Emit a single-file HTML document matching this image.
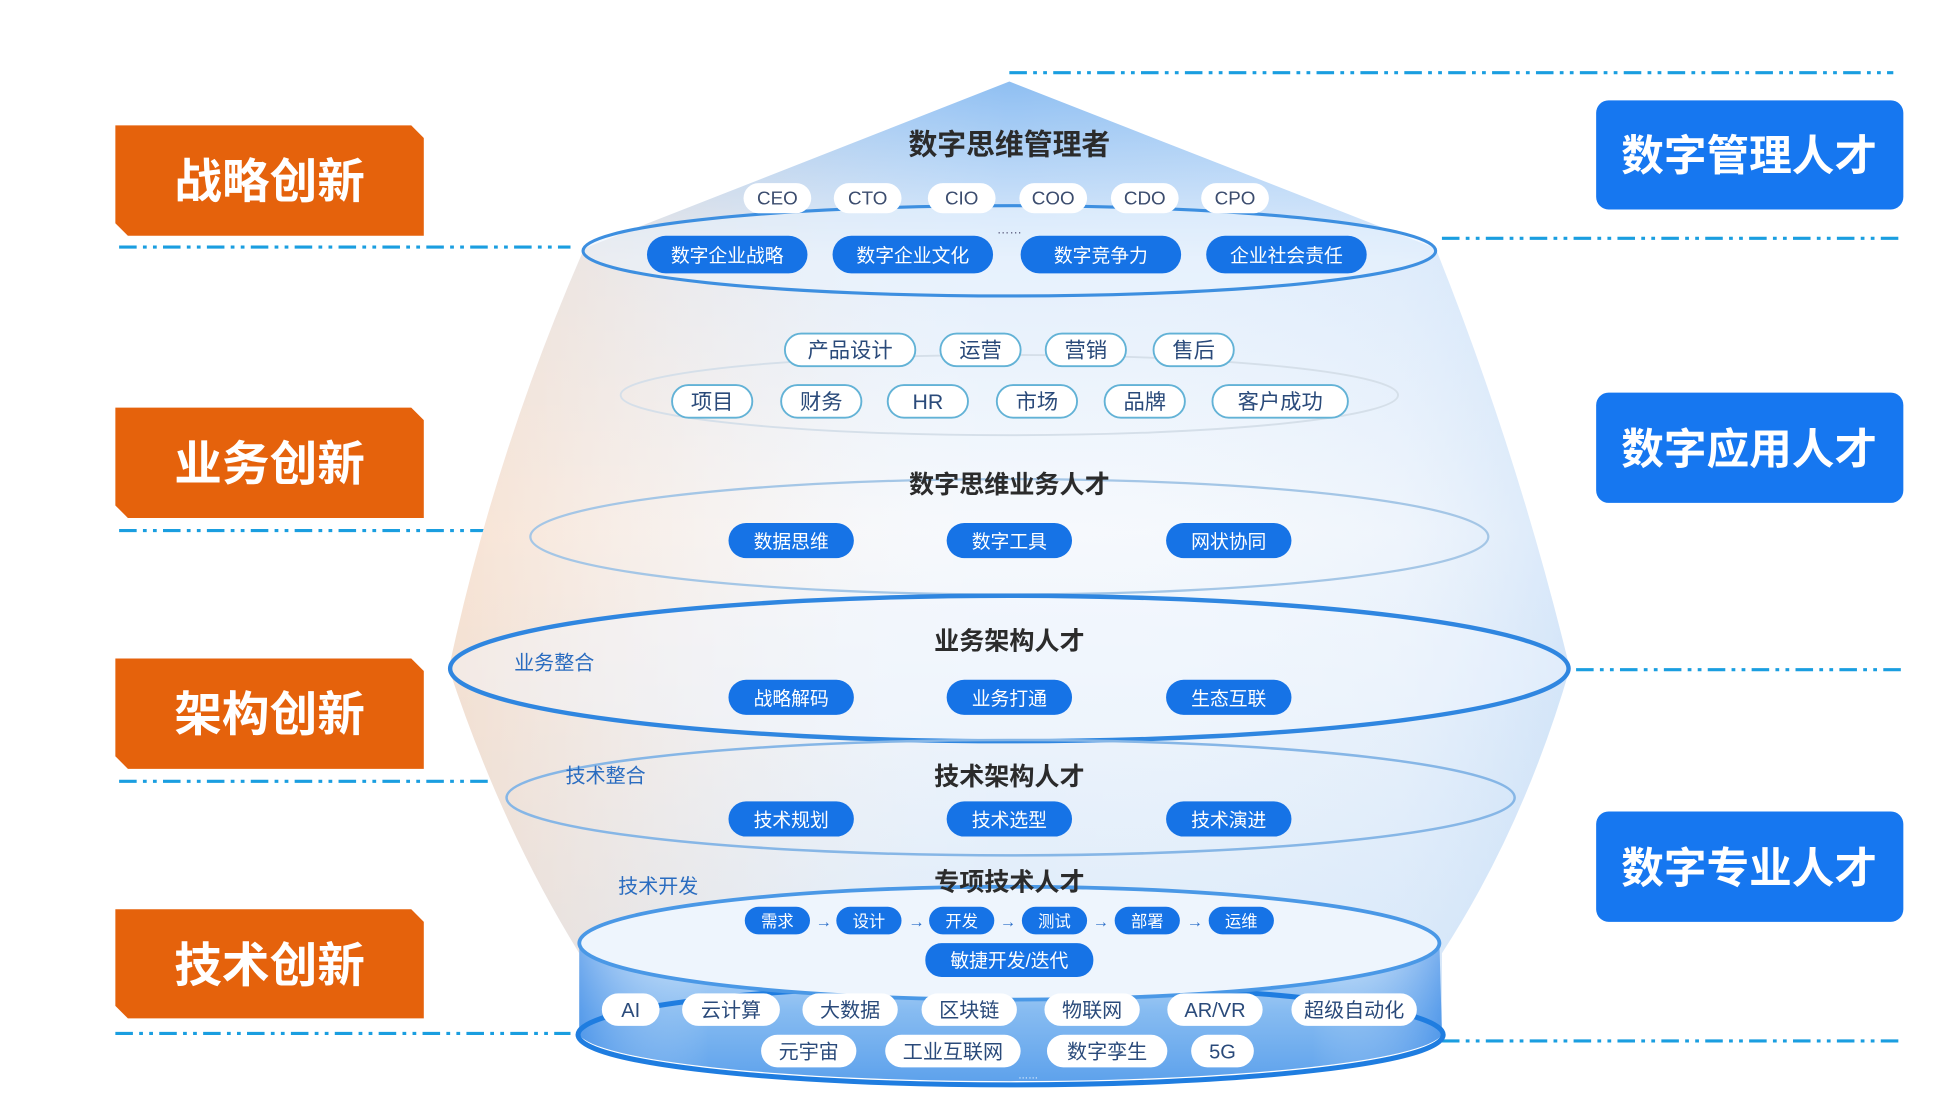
<!DOCTYPE html>
<html><head><meta charset="utf-8"><style>
html,body{margin:0;padding:0;background:#fff;}
svg{display:block;}
text{font-family:"Liberation Sans","Noto Sans CJK SC",sans-serif;}
</style></head><body>
<svg width="1956" height="1120" viewBox="0 0 1560 893" preserveAspectRatio="none" xmlns="http://www.w3.org/2000/svg">
<defs>
<linearGradient id="bodyG" x1="0" y1="0" x2="0" y2="1">
<stop offset="0" stop-color="#8fbff2"/>
<stop offset="0.18" stop-color="#e4effc"/>
<stop offset="0.45" stop-color="#f6f9fd"/>
<stop offset="0.7" stop-color="#e8f1fb"/>
<stop offset="1" stop-color="#d6e7f9"/>
</linearGradient>
<linearGradient id="orG" x1="0" y1="0" x2="1" y2="0">
<stop offset="0" stop-color="#f9cca8" stop-opacity="0.5"/>
<stop offset="0.3" stop-color="#fbe6d6" stop-opacity="0.2"/>
<stop offset="0.5" stop-color="#ffffff" stop-opacity="0"/>
<stop offset="0.85" stop-color="#c4dcf6" stop-opacity="0.15"/>
<stop offset="1" stop-color="#a2c8f2" stop-opacity="0.35"/>
</linearGradient>
<linearGradient id="cylG" x1="0" y1="0" x2="0" y2="1">
<stop offset="0" stop-color="#c8e0f9"/>
<stop offset="0.5" stop-color="#86bbf1"/>
<stop offset="1" stop-color="#5ea2ec"/>
</linearGradient>
<linearGradient id="cylH" x1="0" y1="0" x2="1" y2="0">
<stop offset="0" stop-color="#2c7fe4" stop-opacity="0.5"/>
<stop offset="0.15" stop-color="#ffffff" stop-opacity="0"/>
<stop offset="0.85" stop-color="#ffffff" stop-opacity="0"/>
<stop offset="1" stop-color="#2c7fe4" stop-opacity="0.5"/>
</linearGradient>
</defs>

<g stroke="#1a9ee0" stroke-width="2.5" fill="none" stroke-dasharray="14 5 3 5 3 5">
<line x1="805" y1="58" x2="1510" y2="58"/>
<line x1="1150" y1="190" x2="1518" y2="190"/>
<line x1="1257" y1="534" x2="1518" y2="534"/>
<line x1="1150" y1="830" x2="1518" y2="830"/>
<line x1="95" y1="197" x2="455" y2="197"/>
<line x1="95" y1="423" x2="420" y2="423"/>
<line x1="95" y1="623" x2="395" y2="623"/>
<line x1="92" y1="824" x2="455" y2="824"/>
</g>

<path d="M805,65 L466,198 Q395,360 358,533 Q400,660 462,760 L462,825 A345,40 0 0 0 1150,825 L1150,760 Q1215,660 1252,533 Q1210,360 1145,198 Z" fill="url(#bodyG)"/>
<path d="M805,65 L466,198 Q395,360 358,533 Q400,660 462,760 L462,825 A345,40 0 0 0 1150,825 L1150,760 Q1215,660 1252,533 Q1210,360 1145,198 Z" fill="url(#orG)"/>
<path d="M462,752 A343,45 0 0 0 1148,752 L1150,825 A345,40 0 0 1 462,825 Z" fill="url(#cylG)"/>
<path d="M462,752 A343,45 0 0 0 1148,752 L1150,825 A345,40 0 0 1 462,825 Z" fill="url(#cylH)"/>
<ellipse cx="806" cy="825" rx="345" ry="40" fill="none" stroke="#1f7de0" stroke-width="4"/>

<ellipse cx="805" cy="200" rx="340" ry="36" fill="#eaf3fd" fill-opacity="0.5" stroke="#3d8fe0" stroke-width="2.5"/>
<ellipse cx="805" cy="315" rx="310" ry="32" fill="none" stroke="#d5dfe9" stroke-width="1.5"/>
<ellipse cx="805" cy="428" rx="382" ry="46" fill="none" stroke="#a4c6e6" stroke-width="1.8"/>
<ellipse cx="805" cy="533" rx="446" ry="58" fill="#f3f8fe" fill-opacity="0.4" stroke="#2f86e0" stroke-width="3.5"/>
<ellipse cx="806" cy="636" rx="402" ry="46" fill="none" stroke="#86b6e6" stroke-width="2"/>
<ellipse cx="805" cy="752" rx="343" ry="45" fill="#eef5fd" stroke="#4a98e6" stroke-width="3"/>

<g fill="#e5620c">
<polygon points="92,100 328,100 338,110 338,188 102,188 92,178"/>
<polygon points="92,325 328,325 338,335 338,413 102,413 92,403"/>
<polygon points="92,525 328,525 338,535 338,613 102,613 92,603"/>
<polygon points="92,725 328,725 338,735 338,812 102,812 92,802"/>
</g>
<g fill="#fff" font-size="38" font-weight="bold" text-anchor="middle">
<text x="215" y="158">战略创新</text>
<text x="215" y="383">业务创新</text>
<text x="215" y="583">架构创新</text>
<text x="215" y="783">技术创新</text>
</g>

<g fill="#1677f0">
<rect x="1273" y="80" width="245" height="87" rx="10"/>
<rect x="1273" y="313" width="245" height="88" rx="10"/>
<rect x="1273" y="647" width="245" height="88" rx="10"/>
</g>
<g fill="#fff" font-size="34" font-weight="bold" text-anchor="middle">
<text x="1395" y="136">数字管理人才</text>
<text x="1395" y="370">数字应用人才</text>
<text x="1395" y="704">数字专业人才</text>
</g>

<g fill="#2b2b2b" font-weight="bold" text-anchor="middle">
<text x="805" y="123" font-size="23">数字思维管理者</text>
<text x="805" y="393" font-size="20">数字思维业务人才</text>
<text x="805" y="518" font-size="20">业务架构人才</text>
<text x="805" y="626" font-size="20">技术架构人才</text>
<text x="805" y="710" font-size="20">专项技术人才</text>
</g>
<g fill="#2a6cc0" font-size="16" text-anchor="middle">
<text x="442" y="534">业务整合</text>
<text x="483" y="624">技术整合</text>
<text x="525" y="712">技术开发</text>
</g>
<text x="805" y="186" font-size="10" fill="#557" text-anchor="middle">……</text>
<text x="820" y="860" font-size="8" fill="#fff" text-anchor="middle">……</text>

<g font-size="15" text-anchor="middle">
<g fill="#fff">
<rect x="593" y="146" width="54" height="24" rx="12"/><rect x="665" y="146" width="54" height="24" rx="12"/>
<rect x="740" y="146" width="54" height="24" rx="12"/><rect x="813" y="146" width="54" height="24" rx="12"/>
<rect x="886" y="146" width="54" height="24" rx="12"/><rect x="958" y="146" width="54" height="24" rx="12"/>
</g>
<g fill="#3b4c6e">
<text x="620" y="163">CEO</text><text x="692" y="163">CTO</text><text x="767" y="163">CIO</text>
<text x="840" y="163">COO</text><text x="913" y="163">CDO</text><text x="985" y="163">CPO</text>
</g>
</g>

<g fill="#1673e6">
<rect x="516" y="188" width="128" height="30" rx="15"/><rect x="664" y="188" width="128" height="30" rx="15"/>
<rect x="814" y="188" width="128" height="30" rx="15"/><rect x="962" y="188" width="128" height="30" rx="15"/>
<rect x="581" y="417" width="100" height="28" rx="14"/><rect x="755" y="417" width="100" height="28" rx="14"/><rect x="930" y="417" width="100" height="28" rx="14"/>
<rect x="581" y="542" width="100" height="28" rx="14"/><rect x="755" y="542" width="100" height="28" rx="14"/><rect x="930" y="542" width="100" height="28" rx="14"/>
<rect x="581" y="639" width="100" height="28" rx="14"/><rect x="755" y="639" width="100" height="28" rx="14"/><rect x="930" y="639" width="100" height="28" rx="14"/>
<rect x="594" y="723" width="52" height="22" rx="11"/><rect x="667" y="723" width="52" height="22" rx="11"/>
<rect x="741" y="723" width="52" height="22" rx="11"/><rect x="815" y="723" width="52" height="22" rx="11"/>
<rect x="889" y="723" width="52" height="22" rx="11"/><rect x="964" y="723" width="52" height="22" rx="11"/>
<rect x="738" y="752" width="134" height="27" rx="13"/>
</g>
<g fill="#fff" text-anchor="middle" font-size="15">
<text x="580" y="209">数字企业战略</text><text x="728" y="209">数字企业文化</text>
<text x="878" y="209">数字竞争力</text><text x="1026" y="209">企业社会责任</text>
<text x="631" y="437">数据思维</text><text x="805" y="437">数字工具</text><text x="980" y="437">网状协同</text>
<text x="631" y="562">战略解码</text><text x="805" y="562">业务打通</text><text x="980" y="562">生态互联</text>
<text x="631" y="659">技术规划</text><text x="805" y="659">技术选型</text><text x="980" y="659">技术演进</text>
<g font-size="13">
<text x="620" y="739">需求</text><text x="693" y="739">设计</text><text x="767" y="739">开发</text>
<text x="841" y="739">测试</text><text x="915" y="739">部署</text><text x="990" y="739">运维</text>
</g>
<text x="805" y="771">敏捷开发/迭代</text>
</g>
<g fill="#2c6fc9" font-size="13" text-anchor="middle">
<text x="657" y="739">→</text><text x="731" y="739">→</text><text x="804" y="739">→</text>
<text x="878" y="739">→</text><text x="953" y="739">→</text>
</g>

<g fill="#fff" stroke="#62b2d6" stroke-width="1.5">
<rect x="626" y="266" width="104" height="26" rx="13"/><rect x="750" y="266" width="64" height="26" rx="13"/>
<rect x="834" y="266" width="64" height="26" rx="13"/><rect x="920" y="266" width="64" height="26" rx="13"/>
<rect x="536" y="307" width="64" height="26" rx="13"/><rect x="623" y="307" width="64" height="26" rx="13"/>
<rect x="708" y="307" width="64" height="26" rx="13"/><rect x="795" y="307" width="64" height="26" rx="13"/>
<rect x="881" y="307" width="64" height="26" rx="13"/><rect x="967" y="307" width="108" height="26" rx="13"/>
</g>
<g fill="#2a4a7a" font-size="17" text-anchor="middle">
<text x="678" y="285">产品设计</text><text x="782" y="285">运营</text><text x="866" y="285">营销</text><text x="952" y="285">售后</text>
<text x="568" y="326">项目</text><text x="655" y="326">财务</text><text x="740" y="326">HR</text>
<text x="827" y="326">市场</text><text x="913" y="326">品牌</text><text x="1021" y="326">客户成功</text>
</g>

<g fill="#fff">
<rect x="480" y="792" width="46" height="26" rx="13"/><rect x="544" y="792" width="78" height="26" rx="13"/>
<rect x="640" y="792" width="76" height="26" rx="13"/><rect x="735" y="792" width="76" height="26" rx="13"/>
<rect x="833" y="792" width="76" height="26" rx="13"/><rect x="931" y="792" width="76" height="26" rx="13"/>
<rect x="1030" y="792" width="100" height="26" rx="13"/>
<rect x="607" y="825" width="76" height="26" rx="13"/><rect x="706" y="825" width="108" height="26" rx="13"/>
<rect x="835" y="825" width="96" height="26" rx="13"/><rect x="950" y="825" width="50" height="26" rx="13"/>
</g>
<g fill="#2a4a7a" font-size="16" text-anchor="middle">
<text x="503" y="811">AI</text><text x="583" y="811">云计算</text><text x="678" y="811">大数据</text>
<text x="773" y="811">区块链</text><text x="871" y="811">物联网</text><text x="969" y="811">AR/VR</text>
<text x="1080" y="811">超级自动化</text>
<text x="645" y="844">元宇宙</text><text x="760" y="844">工业互联网</text><text x="883" y="844">数字孪生</text><text x="975" y="844">5G</text>
</g>
</svg>
</body></html>
